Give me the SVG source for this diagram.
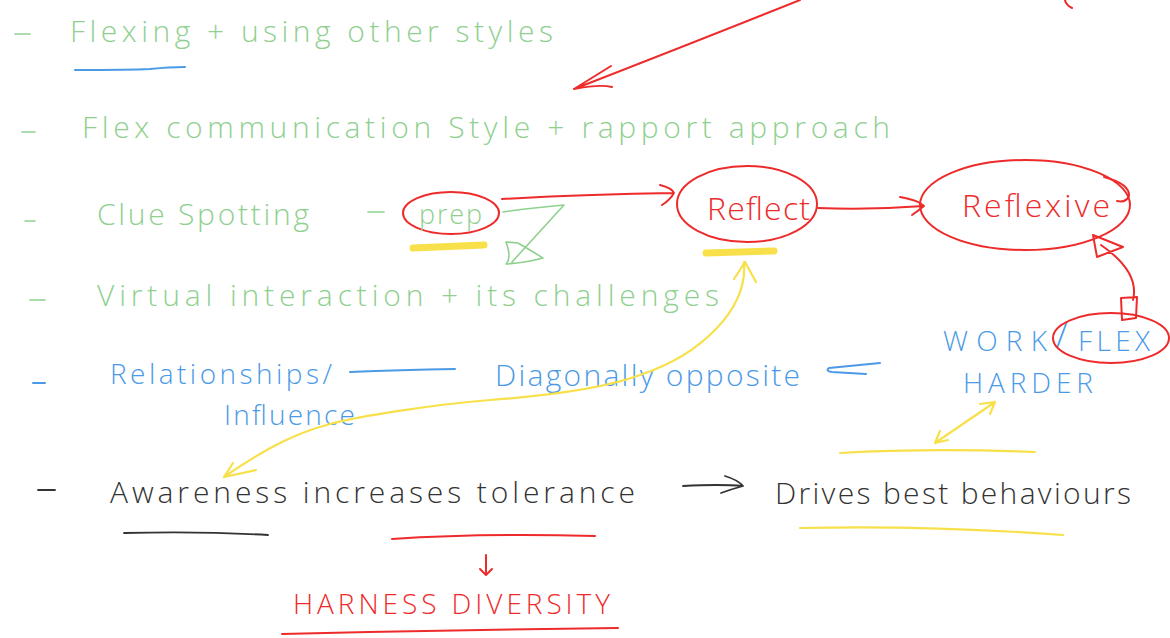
<svg xmlns="http://www.w3.org/2000/svg" width="1170" height="638" viewBox="0 0 1170 638">
<style>
text{font-family:"Open Sans","Liberation Sans",sans-serif;font-weight:300}
.g{fill:#8fd08f}.b{fill:#4b9ae6}.r{fill:#ee2b2b}.k{fill:#333}
.sg,.sb,.sr,.sy,.sk{fill:none;stroke-linecap:round;stroke-linejoin:round}
.sg{stroke:#8fd08f;stroke-width:1.6}.sb{stroke:#4b9ae6;stroke-width:2}.sr{stroke:#ee2b2b;stroke-width:2}
.sy{stroke:#f7e04a;stroke-width:2.2}.sk{stroke:#333;stroke-width:1.8}
.hl{stroke:#f7e04a;stroke-width:7;fill:none;stroke-linecap:round}
</style>
<rect width="1170" height="638" fill="#fff"/>
<g id="bullets">
<path class="sg" d="M15 34H30M22 132H35M25 221H35M30 300H45"/>
<path class="sb" d="M33 383H45"/>
<path class="sk" d="M38 490H55"/>
</g>
<g id="n-flexing">
<text class="g" x="70" y="42" font-size="30" textLength="483" lengthAdjust="spacing">Flexing + using other styles</text>
<path class="sb" d="M75 70Q130 70 150 69Q170 67 185 67"/>
</g>
<g id="n-flexcomm">
<text class="g" x="82" y="138" font-size="30" textLength="808" lengthAdjust="spacing">Flex communication Style + rapport approach</text>
</g>
<g id="n-clue">
<text class="g" x="97" y="225" font-size="30" textLength="212" lengthAdjust="spacing">Clue Spotting</text>
<path class="sg" d="M368 212H384"/>
</g>
<g id="n-prep">
<ellipse cx="451" cy="213" rx="48" ry="21" class="sr"/>
<text class="g" x="419" y="224" font-size="27" textLength="63" lengthAdjust="spacing">prep</text>
<path class="hl" d="M413 248L484 245"/>
</g>
<g id="n-reflect">
<ellipse cx="747" cy="204" rx="70" ry="38" class="sr"/>
<text class="r" x="707" y="220" font-size="32" textLength="103" lengthAdjust="spacing">Reflect</text>
<path class="hl" d="M706 253L774 251"/>
</g>
<g id="n-reflexive">
<ellipse cx="1025" cy="205" rx="105" ry="45" class="sr"/>
<path class="sr" d="M1104 177Q1130 184 1129 196Q1126 203 1117 201"/>
<text class="r" x="962" y="217" font-size="32" textLength="148" lengthAdjust="spacing">Reflexive</text>
</g>
<g id="n-virtual">
<text class="g" x="97" y="306" font-size="30" textLength="622" lengthAdjust="spacing">Virtual interaction + its challenges</text>
</g>
<g id="n-relationships">
<text class="b" x="110" y="384" font-size="28" textLength="222" lengthAdjust="spacing">Relationships/</text>
<text class="b" x="224" y="425" font-size="28" textLength="131" lengthAdjust="spacing">Influence</text>
</g>
<g id="n-diagonally">
<text class="b" x="495" y="386" font-size="30" textLength="305" lengthAdjust="spacing">Diagonally opposite</text>
</g>
<g id="n-work">
<text class="b" x="943" y="351" font-size="28" textLength="104" lengthAdjust="spacing">WORK</text>
<text class="b" x="1056" y="347" font-size="36">/</text>
<ellipse cx="1111" cy="338" rx="58" ry="25" class="sr"/>
<text class="b" x="1078" y="351" font-size="28" textLength="72" lengthAdjust="spacing">FLEX</text>
<text class="b" x="963" y="393" font-size="28" textLength="130" lengthAdjust="spacing">HARDER</text>
</g>
<g id="n-awareness">
<text class="k" x="110" y="503" font-size="30" textLength="525" lengthAdjust="spacing">Awareness increases tolerance</text>
<path class="sk" d="M124 533Q200 531 268 535"/>
<path class="sr" d="M392 539Q480 533 595 536"/>
</g>
<g id="n-drives">
<text class="k" x="775" y="504" font-size="30" textLength="356" lengthAdjust="spacing">Drives best behaviours</text>
</g>
<g id="n-harness">
<text class="r" x="293" y="614" font-size="28" textLength="317" lengthAdjust="spacing">HARNESS DIVERSITY</text>
<path class="sr" d="M282 634Q450 630 618 628"/>
</g>
<g id="connectors">
<path class="sr" d="M800 0Q700 40 574 89M574 89L611 66M574 89Q600 84 612 87"/>
<path class="sr" d="M1065 0Q1066 5 1072 8"/>
<path class="sr" d="M502 199Q590 194 674 193M660 185Q672 188 674 193Q670 200 662 205"/>
<path class="sr" d="M818 208Q870 210 924 206M900 197Q918 200 924 206Q918 211 912 215"/>
<path class="sr" d="M1101 245Q1140 272 1133 300M1093 235L1123 247L1097 257Z M1121 298L1137 297L1136 318L1122 320Z"/>
<path class="sg" d="M503 212Q530 208 564 205L512 262M506 242Q512 258 506 264Q525 263 543 258Q530 250 518 243Z"/>
<path class="sb" d="M350 372Q400 370 455 369"/>
<path class="sb" d="M880 363L829 368Q825 371 832 372L866 374"/>
<path class="sy" d="M744 262C748 310 700 355 640 375C600 390 530 397 490 400C430 405 360 416 330 424C300 432 270 445 224 477M233 463L224 477L256 470M734 279L745 262L756 282"/>
<path class="sy" d="M995 402L935 443M995 402L980 404M995 402L990 414M935 443L948 440M935 443L940 431"/>
<path class="sy" d="M840 453Q930 448 1035 452"/>
<path class="sk" d="M683 486Q720 484 743 486M725 476Q738 480 743 486Q732 489 721 493"/>
<path class="sr" d="M486 555V575M480 569L486 575L492 569"/>
<path class="sy" d="M800 528Q930 525 1063 535"/>
</g>
</svg>
